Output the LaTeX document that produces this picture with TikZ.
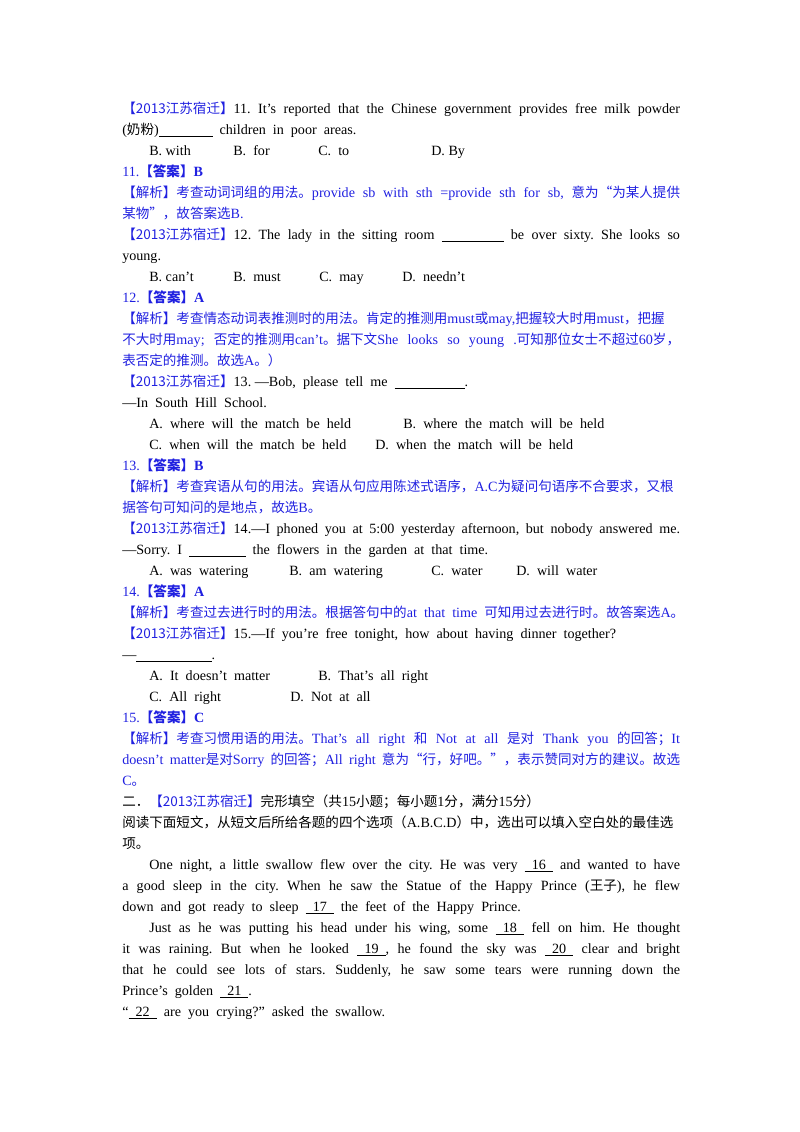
\documentclass[tikz,border=0pt]{standalone}
\usepackage{fontspec}
\setmainfont{Liberation Serif}
\newfontfamily\cjk[Scale=0.96]{Noto Sans CJK SC}
\XeTeXlinebreaklocale "zh"
\XeTeXlinebreakskip=0pt plus 1pt
\frenchspacing
\newcommand\C[1]{{\cjk #1}}
\newcommand\J[1]{\hbox to 415pt{#1}}
\newcommand\U[1]{\underline{\hbox to #1pt{}}}
\newcommand\B[1]{\underline{\hbox{\ \ #1\ \ }}}
\newcommand\Hd{\C{【2013江苏宿迁】}}
\newcommand\Ans[2]{#1.{\bfseries\C{【答案】}#2}}
\definecolor{bl}{RGB}{32,32,224}
\begin{document}
\begin{tikzpicture}[x=0.744pt,y=-0.744pt,
  L/.style={anchor=base west,inner sep=0pt,font=\fontsize{10.5pt}{12pt}\selectfont},
  Bl/.style={L,text=bl}]
\useasboundingbox (0,0) rectangle (800,1132);
\node[L] (a1) at (122,113) {\J{\textcolor{bl}{\Hd}11. It’s reported that the Chinese government provides free milk powder}};
\node[L] (a2) at (122,134) {(\C{奶粉})\U{40} \ children \ in \ poor \ areas.};
\node[L] (a3) at (149,155) {B. with};
\node[L] (a4) at (233,155) {B. \ for};
\node[L] (a5) at (318,155) {C. \ to};
\node[L] (a6) at (431,155) {D. By};
\node[Bl] (a7) at (122,176) {\Ans{11}{B}};
\node[Bl] (a8) at (122,197) {\J{\C{【解析】考查动词词组的用法。}provide sb with sth =provide sth for sb, \C{意为“为某人提供}}};
\node[Bl] (a9) at (122,218) {\C{某物”，故答案选}B.};
\node[L] (b1) at (122,239) {\J{\textcolor{bl}{\Hd}12. The lady in the sitting room \U{46} be over sixty. She looks so}};
\node[L] (b2) at (122,260) {young.};
\node[L] (b3) at (149,281) {B. can’t};
\node[L] (b4) at (233,281) {B. \ must};
\node[L] (b5) at (319,281) {C. \ may};
\node[L] (b6) at (402,281) {D. \ needn’t};
\node[Bl] (b7) at (122,302) {\Ans{12}{A}};
\node[Bl] (b8) at (122,323) {\J{\C{【解析】考查情态动词表推测时的用法。肯定的推测用}must\C{或}may,\C{把握较大时用}must\C{，把握}}};
\node[Bl] (b9) at (122,344) {\J{\C{不大时用}may; \C{否定的推测用}can’t\C{。据下文}She looks so young .\C{可知那位女士不超过}60\C{岁，}}};
\node[Bl] (b10) at (122,365) {\C{表否定的推测。故选}A\C{。）}};
\node[L] (c1) at (122,386) {\textcolor{bl}{\Hd}13. —Bob, \ please \ tell \ me \ \U{52}.};
\node[L] (c2) at (122,407) {—In \ South \ Hill \ School.};
\node[L] (c3) at (149,428) {A. \ where \ will \ the \ match \ be \ held};
\node[L] (c4) at (403,428) {B. \ where \ the \ match \ will \ be \ held};
\node[L] (c5) at (149,449) {C. \ when \ will \ the \ match \ be \ held};
\node[L] (c6) at (375,449) {D. \ when \ the \ match \ will \ be \ held};
\node[Bl] (c7) at (122,470) {\Ans{13}{B}};
\node[Bl] (c8) at (122,491) {\J{\C{【解析】考查宾语从句的用法。宾语从句应用陈述式语序，}A.C\C{为疑问句语序不合要求，又根}}};
\node[Bl] (c9) at (122,512) {\C{据答句可知问的是地点，故选}B\C{。}};
\node[L] (d1) at (122,533) {\J{\textcolor{bl}{\Hd}14.—I phoned you at 5:00 yesterday afternoon, but nobody answered me.}};
\node[L] (d2) at (122,554) {—Sorry. \ I \ \U{42} \ the \ flowers \ in \ the \ garden \ at \ that \ time.};
\node[L] (d3) at (149,575) {A. \ was \ watering};
\node[L] (d4) at (289,575) {B. \ am \ watering};
\node[L] (d5) at (431,575) {C. \ water};
\node[L] (d6) at (516,575) {D. \ will \ water};
\node[Bl] (d7) at (122,596) {\Ans{14}{A}};
\node[Bl] (d8) at (122,617) {\C{【解析】考查过去进行时的用法。根据答句中的}at \ that \ time \ \C{可知用过去进行时。故答案选}A\C{。}};
\node[L] (e1) at (122,638) {\textcolor{bl}{\Hd}15.—If \ you’re \ free \ tonight, \ how \ about \ having \ dinner \ together?};
\node[L] (e2) at (122,659) {—\U{56}.};
\node[L] (e3) at (149,680) {A. \ It \ doesn’t \ matter};
\node[L] (e4) at (318,680) {B. \ That’s \ all \ right};
\node[L] (e5) at (149,701) {C. \ All \ right};
\node[L] (e6) at (290,701) {D. \ Not \ at \ all};
\node[Bl] (e7) at (122,722) {\Ans{15}{C}};
\node[Bl] (e8) at (122,743) {\J{\C{【解析】考查习惯用语的用法。}That's all right \C{和} Not at all \C{是对} Thank you \C{的回答；}It}};
\node[Bl] (e9) at (122,764) {\J{doesn't matter\C{是对}Sorry \C{的回答；}All right \C{意为“行，好吧。”，表示赞同对方的建议。故选}}};
\node[Bl] (e10) at (122,785) {C\C{。}};
\node[L] (f1) at (122,806) {\C{二．}\textcolor{bl}{\Hd}\C{完形填空（共}15\C{小题；每小题}1\C{分，满分}15\C{分）}};
\node[L] (f2) at (122,827) {\J{\C{阅读下面短文，从短文后所给各题的四个选项（}A.B.C.D\C{）中，选出可以填入空白处的最佳选}}};
\node[L] (f3) at (122,848) {\C{项。}};
\node[L] (g1) at (149,869) {\hbox to 395pt{One night, a little swallow flew over the city. He was very \B{16} and wanted to have}};
\node[L] (g2) at (122,890) {\J{a good sleep in the city. When he saw the Statue of the Happy Prince (\C{王子}), he flew}};
\node[L] (g3) at (122,911) {down \ and \ got \ ready \ to \ sleep \ \B{17} \ the \ feet \ of \ the \ Happy \ Prince.};
\node[L] (h1) at (149,932) {\hbox to 395pt{Just as he was putting his head under his wing, some \B{18} fell on him. He thought}};
\node[L] (h2) at (122,953) {\J{it was raining. But when he looked \B{19}, he found the sky was \B{20} clear and bright}};
\node[L] (h3) at (122,974) {\J{that he could see lots of stars. Suddenly, he saw some tears were running down the}};
\node[L] (h4) at (122,995) {Prince’s \ golden \ \B{21}.};
\node[L] (h5) at (122,1016) {“\B{22} \ are \ you \ crying?” \ asked \ the \ swallow.};
\end{tikzpicture}
\end{document}
